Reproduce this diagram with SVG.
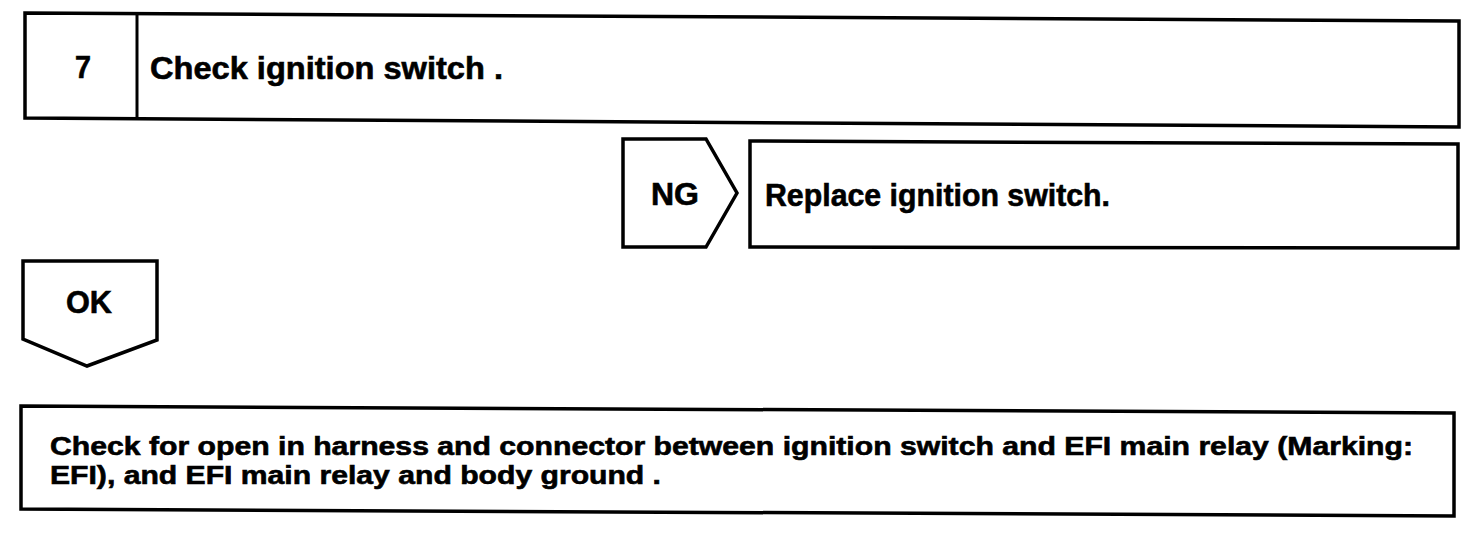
<svg xmlns="http://www.w3.org/2000/svg" width="1472" height="538" viewBox="0 0 1472 538">
<style>
.box{fill:#fff;stroke:#000;stroke-width:3.5;stroke-linejoin:miter}
.t{font-family:"Liberation Sans",Arial,sans-serif;font-weight:bold;fill:#000;stroke:#000;stroke-width:0.6}
.big{font-size:31px}
.small{font-size:25px}
</style>
<rect width="1472" height="538" fill="#fff"/>
<g id="step7">
<polygon class="box" points="25,13 1459,21 1459,127 25,118"/>
<line x1="137" y1="14" x2="137" y2="119" stroke="#000" stroke-width="3"/>
<text class="t big" x="75" y="78" textLength="16" lengthAdjust="spacingAndGlyphs">7</text>
<text class="t big" x="150" y="79" textLength="353" lengthAdjust="spacingAndGlyphs">Check ignition switch .</text>
</g>
<g id="ng">
<polygon class="box" points="623,139 706,139 737,193 706,247 623,247"/>
<text class="t big" x="651" y="205" textLength="48" lengthAdjust="spacingAndGlyphs">NG</text>
</g>
<g id="replace">
<polygon class="box" points="750,141 1458,144 1458,248 750,247"/>
<text class="t big" x="765" y="206" textLength="345" lengthAdjust="spacingAndGlyphs">Replace ignition switch.</text>
</g>
<g id="ok">
<polygon class="box" points="23,261 157,261 157,340 87,366 23,339"/>
<text class="t big" x="66" y="313" textLength="46" lengthAdjust="spacingAndGlyphs">OK</text>
</g>
<g id="check-harness">
<polygon class="box" points="21,406 1454,413 1454,516 21,509"/>
<text class="t small" x="50" y="455" textLength="1363" lengthAdjust="spacingAndGlyphs">Check for open in harness and connector between ignition switch and EFI main relay (Marking:</text>
<text class="t small" x="50" y="484" textLength="611" lengthAdjust="spacingAndGlyphs">EFI), and EFI main relay and body ground .</text>
</g>
<g id="connectors"></g>
</svg>
